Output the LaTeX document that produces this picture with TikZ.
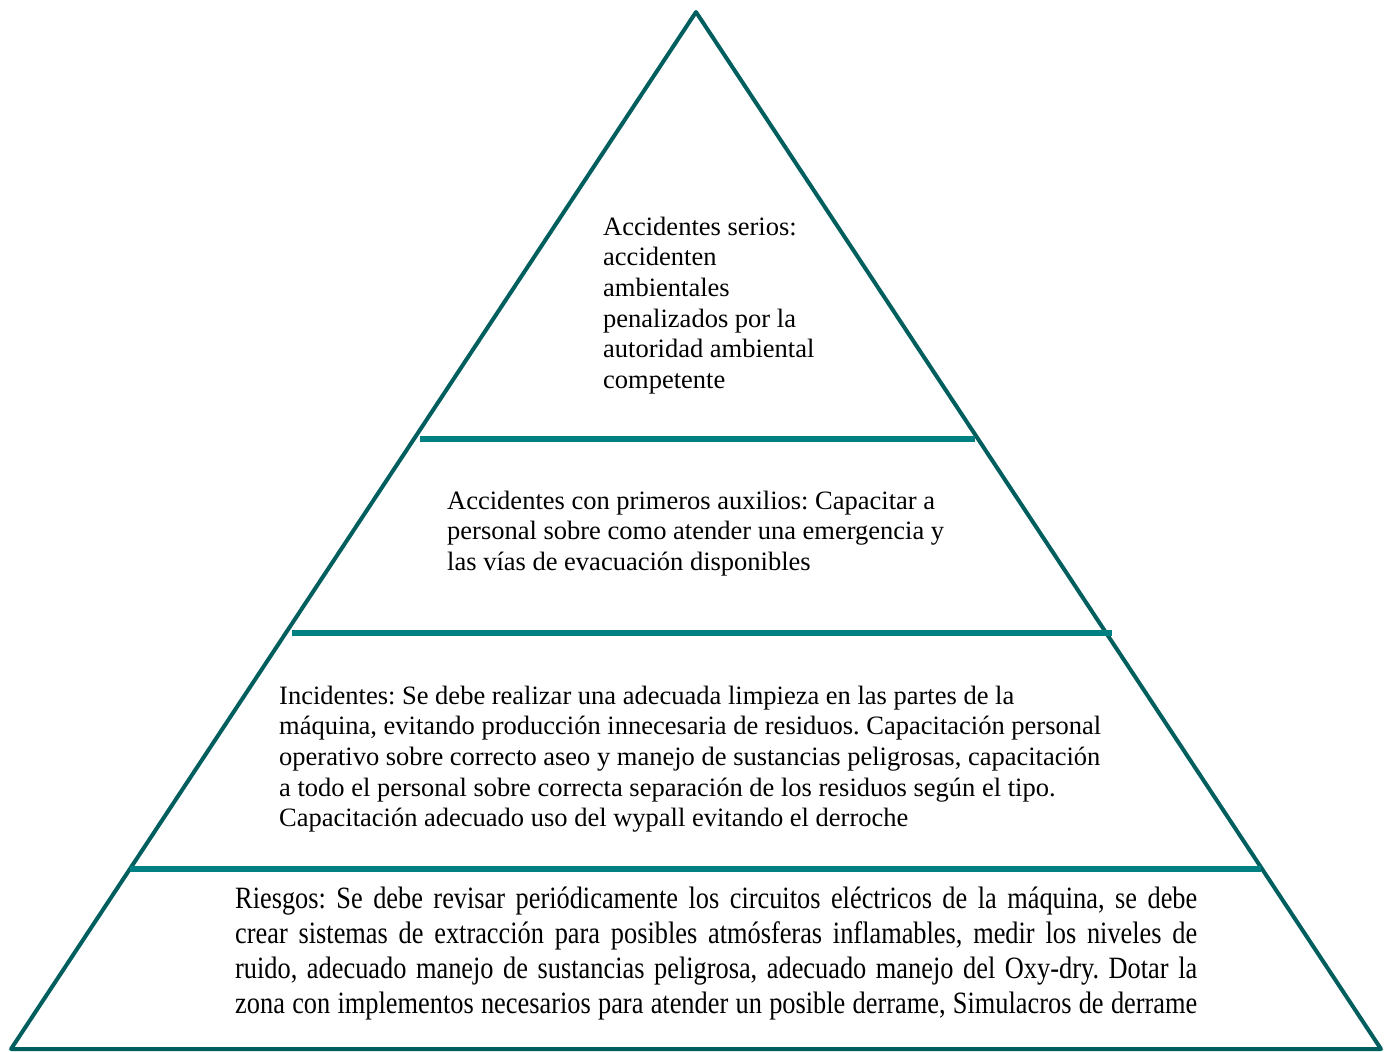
\documentclass[tikz,border=0pt]{standalone}
\usepackage{fontspec}
\setmainfont{Liberation Serif}
% tall, narrow cut of the serif for the widest tier
\newfontfamily\condensedserif[FakeStretch=0.85]{Liberation Serif}
\definecolor{pyrEdge}{RGB}{0,94,94}
\definecolor{pyrBand}{RGB}{0,128,128}
\begin{document}
\frenchspacing
\begin{tikzpicture}[x=1pt,y=-1pt,
  edge/.style={draw=pyrEdge,line width=4pt,line join=round},
  band/.style={draw=pyrBand,line width=5.5pt},
  tiertext/.style={anchor=north west,inner sep=0pt,align=left,
    font=\fontsize{26.5}{30.7}\selectfont},
  widetext/.style={anchor=north west,inner sep=0pt,align=left,
    font=\condensedserif\fontsize{31}{35}\selectfont}]
\useasboundingbox[fill=white] (0,0) rectangle (1387,1052);

% outline of the pyramid
\coordinate (apex) at (696,12);
\coordinate (bl) at (11,1049);
\coordinate (br) at (1381,1049);
\draw[edge] (apex) -- (bl) -- (br) -- cycle;

% tier separators
\coordinate (d1l) at (420,439);
\coordinate (d1r) at (975,439);
\coordinate (d2l) at (292,633);
\coordinate (d2r) at (1112,633);
\coordinate (d3l) at (130,869);
\coordinate (d3r) at (1261,869);
\draw[band] (d1l) -- (d1r);
\draw[band] (d2l) -- (d2r);
\draw[band] (d3l) -- (d3r);

% tier texts
\node[tiertext] (serios) at (603,213.5) {\strut Accidentes serios:\\
accidenten\\ambientales\\penalizados por la\\autoridad ambiental\\competente};

\node[tiertext] (auxilios) at (447,487.5) {\strut Accidentes con primeros auxilios: Capacitar a\\
personal sobre como atender una emergencia y\\
las vías de evacuación disponibles};

\node[tiertext] (incidentes) at (279,682.5) {\strut Incidentes: Se debe realizar una adecuada limpieza en las partes de la\\
máquina, evitando producción innecesaria de residuos. Capacitación personal\\
operativo sobre correcto aseo y manejo de sustancias peligrosas, capacitación\\
a todo el personal sobre correcta separación de los residuos según el tipo.\\
Capacitación adecuado uso del wypall evitando el derroche};

\node[widetext] (riesgos) at (235,883.5) {\strut\makebox[962pt][s]{Riesgos: Se debe revisar periódicamente los circuitos eléctricos de la máquina, se debe}\\
\makebox[962pt][s]{crear sistemas de extracción para posibles atmósferas inflamables, medir los niveles de}\\
\makebox[962pt][s]{ruido, adecuado manejo de sustancias peligrosa, adecuado manejo del Oxy-dry. Dotar la}\\
\makebox[962pt][s]{zona con implementos necesarios para atender un posible derrame, Simulacros de derrame}};
\end{tikzpicture}
\end{document}
